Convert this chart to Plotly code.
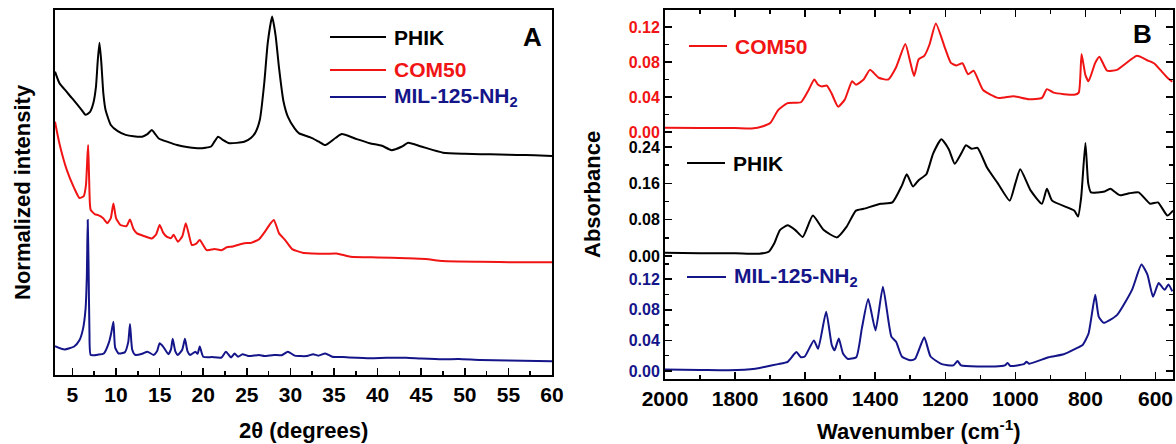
import plotly.graph_objects as go

# ---------------- Panel A : XRD (normalized, vertically offset) ----------------
phik_xrd_2theta = [3.0, 3.5, 4.0, 5.0, 6.0, 6.5, 7.0, 7.4, 7.7, 7.9,
                   8.1, 8.3, 8.55, 8.8, 9.4, 10.2, 11.1, 12.0, 13.0, 13.6,
                   14.1, 14.5, 14.9, 16.0, 17.0, 18.3, 19.6, 20.9, 21.3, 21.7,
                   22.2, 23.0, 24.7, 25.5, 26.0, 26.5, 27.0, 27.4, 27.9, 28.3,
                   28.7, 29.2, 29.7, 30.5, 31.0, 32.3, 33.2, 34.0, 35.2, 35.9,
                   37.4, 39.1, 40.5, 41.6, 42.8, 43.5, 45.0, 47.5, 50.0, 51.8,
                   54.0, 56.0, 58.0, 60.0]
phik_xrd_int = [0.831, 0.80, 0.785, 0.757, 0.728, 0.713, 0.72, 0.745, 0.79, 0.86,
                0.91, 0.86, 0.77, 0.726, 0.685, 0.668, 0.658, 0.654, 0.653, 0.66,
                0.671, 0.66, 0.648, 0.638, 0.630, 0.624, 0.621, 0.626, 0.64, 0.653,
                0.645, 0.635, 0.639, 0.65, 0.665, 0.70, 0.80, 0.91, 0.982, 0.93,
                0.84, 0.75, 0.708, 0.675, 0.662, 0.651, 0.64, 0.630, 0.650, 0.660,
                0.648, 0.635, 0.628, 0.616, 0.626, 0.636, 0.626, 0.609, 0.606, 0.605,
                0.604, 0.603, 0.602, 0.600]

com50_xrd_2theta = [3.0, 3.5, 4.35, 5.2, 5.8, 6.3, 6.55, 6.7, 6.8, 6.9,
                    7.0, 7.1, 7.6, 7.95, 8.5, 9.0, 9.4, 9.7, 10.0, 10.5,
                    11.2, 11.6, 12.0, 12.4, 13.3, 14.1, 14.6, 15.0, 15.4, 15.8,
                    16.3, 16.6, 17.1, 17.6, 18.0, 18.4, 18.7, 19.2, 19.6, 20.4,
                    21.3, 22.1, 22.7, 23.4, 24.7, 25.5, 26.4, 27.2, 27.7, 28.1,
                    28.7, 29.3, 29.7, 30.2, 31.4, 32.5, 34.0, 35.3, 36.9, 40.0,
                    43.3, 45.5, 47.5, 51.8, 56.0, 60.0]
com50_xrd_int = [0.694, 0.635, 0.562, 0.512, 0.485, 0.49, 0.52, 0.59, 0.63, 0.55,
                 0.47, 0.452, 0.44, 0.438, 0.43, 0.416, 0.43, 0.47, 0.43, 0.411,
                 0.408, 0.426, 0.40, 0.388, 0.38, 0.374, 0.385, 0.411, 0.39, 0.379,
                 0.375, 0.384, 0.365, 0.38, 0.416, 0.38, 0.356, 0.36, 0.37, 0.342,
                 0.345, 0.342, 0.35, 0.352, 0.361, 0.362, 0.372, 0.397, 0.415, 0.425,
                 0.388, 0.372, 0.36, 0.345, 0.335, 0.333, 0.332, 0.333, 0.324, 0.322,
                 0.320, 0.318, 0.312, 0.310, 0.309, 0.309]

mil_xrd_2theta = [3.0, 4.1, 5.2, 5.8, 6.2, 6.5, 6.65, 6.75, 6.85, 6.95,
                  7.1, 8.0, 8.6, 9.2, 9.45, 9.7, 9.9, 10.3, 11.0, 11.4,
                  11.6, 11.85, 12.2, 13.0, 13.6, 14.3, 14.7, 15.0, 15.4, 16.0,
                  16.3, 16.5, 16.8, 17.1, 17.6, 17.9, 18.2, 18.5, 19.1, 19.35,
                  19.6, 20.0, 21.0, 22.1, 22.6, 23.2, 23.6, 24.0, 24.5, 25.2,
                  26.4, 27.0, 28.1, 29.0, 29.7, 30.5, 31.9, 32.6, 33.2, 34.0,
                  34.8, 36.0, 39.1, 41.0, 43.3, 45.0, 47.5, 49.3, 51.8, 55.0,
                  60.0]
mil_xrd_int = [0.079, 0.07, 0.078, 0.095, 0.125, 0.18, 0.27, 0.425, 0.30, 0.12,
               0.055, 0.056, 0.059, 0.09, 0.115, 0.146, 0.075, 0.059, 0.062, 0.09,
               0.14, 0.07, 0.055, 0.058, 0.064, 0.055, 0.065, 0.087, 0.078, 0.057,
               0.07, 0.099, 0.065, 0.055, 0.07, 0.099, 0.065, 0.055, 0.064, 0.058,
               0.078, 0.05, 0.049, 0.048, 0.064, 0.048, 0.059, 0.05, 0.057, 0.052,
               0.055, 0.052, 0.055, 0.054, 0.064, 0.053, 0.052, 0.057, 0.053, 0.059,
               0.05, 0.049, 0.046, 0.047, 0.047, 0.045, 0.043, 0.044, 0.041, 0.040,
               0.038]

# ---------------- Panel B : FTIR absorbance ----------------
com50_ir_wn = [2000, 1900, 1800, 1753, 1720, 1699, 1677, 1650, 1612, 1590,
               1574, 1563, 1552, 1538, 1525, 1506, 1487, 1466, 1455, 1433,
               1415, 1390, 1363, 1341, 1314, 1300, 1289, 1276, 1260, 1245,
               1227, 1200, 1184, 1168, 1151, 1135, 1119, 1092, 1049, 1005,
               962, 924, 910, 891, 832, 819, 811, 800, 791, 772,
               760, 738, 710, 653, 624, 604, 582, 566, 552]
com50_ir_abs = [0.005, 0.0045, 0.0045, 0.004, 0.0066, 0.0105, 0.025, 0.033, 0.034, 0.048,
                0.060, 0.054, 0.052, 0.053, 0.0445, 0.029, 0.037, 0.058, 0.054, 0.060,
                0.071, 0.062, 0.060, 0.0735, 0.1006, 0.08, 0.064, 0.083, 0.087, 0.10,
                0.124, 0.095, 0.079, 0.076, 0.0785, 0.066, 0.070, 0.048, 0.039, 0.041,
                0.0375, 0.039, 0.049, 0.045, 0.0425, 0.045, 0.089, 0.065, 0.058, 0.079,
                0.086, 0.070, 0.071, 0.087, 0.082, 0.0785, 0.069, 0.062, 0.0575]

phik_ir_wn = [2000, 1900, 1800, 1731, 1704, 1688, 1672, 1650, 1628, 1607,
              1578, 1547, 1509, 1482, 1455, 1433, 1384, 1351, 1324, 1310,
              1292, 1276, 1254, 1235, 1211, 1190, 1173, 1155, 1141, 1125,
              1108, 1081, 1050, 1016, 1000, 986, 956, 924, 910, 895,
              832, 821, 812, 800, 792, 784, 765, 745, 729, 702,
              675, 648, 615, 593, 566, 550]
phik_ir_abs = [0.007, 0.006, 0.006, 0.005, 0.0094, 0.028, 0.057, 0.0676, 0.057, 0.042,
               0.089, 0.057, 0.041, 0.064, 0.100, 0.104, 0.115, 0.118, 0.155, 0.180,
               0.153, 0.167, 0.18, 0.225, 0.257, 0.235, 0.203, 0.225, 0.244, 0.236,
               0.238, 0.195, 0.16, 0.122, 0.16, 0.191, 0.144, 0.115, 0.148, 0.122,
               0.100, 0.087, 0.13, 0.249, 0.16, 0.140, 0.14, 0.142, 0.148, 0.134,
               0.138, 0.140, 0.115, 0.118, 0.089, 0.100]

mil_ir_wn = [2000, 1900, 1818, 1742, 1710, 1677, 1650, 1634, 1625, 1612,
             1601, 1575, 1563, 1540, 1524, 1516, 1504, 1492, 1479, 1454,
             1438, 1420, 1399, 1378, 1354, 1340, 1324, 1299, 1286, 1260,
             1242, 1210, 1177, 1165, 1155, 1058, 1030, 1022, 1014, 976,
             968, 960, 905, 862, 829, 808, 791, 772, 762, 748,
             710, 667, 640, 623, 607, 591, 574, 563, 552]
mil_ir_abs = [0.002, 0.0015, 0.001, 0.003, 0.006, 0.009, 0.012, 0.0206, 0.025, 0.018,
              0.019, 0.040, 0.029, 0.0775, 0.034, 0.027, 0.0425, 0.023, 0.016, 0.018,
              0.056, 0.094, 0.053, 0.110, 0.045, 0.038, 0.019, 0.014, 0.016, 0.044,
              0.019, 0.009, 0.0074, 0.013, 0.0074, 0.006, 0.0074, 0.0105, 0.0066, 0.009,
              0.012, 0.0096, 0.018, 0.022, 0.029, 0.034, 0.049, 0.0995, 0.071, 0.063,
              0.073, 0.106, 0.139, 0.126, 0.097, 0.115, 0.106, 0.113, 0.104]

series_names = ["PHIK", "COM50", "MIL-125-NH<sub>2</sub>"]

BLACK = "#000000"
RED = "#f01414"
NAVY = "#15158a"

FW, FH = 1176, 444
FONT = "Liberation Sans, Arial, sans-serif"


def px(x):
    return x / FW


def py(y):
    return 1 - y / FH


fig = go.Figure()

# Panel A traces
for xs, ys, c in [(phik_xrd_2theta, phik_xrd_int, BLACK),
                  (com50_xrd_2theta, com50_xrd_int, RED),
                  (mil_xrd_2theta, mil_xrd_int, NAVY)]:
    fig.add_trace(go.Scatter(x=xs, y=ys, mode="lines",
                             line=dict(color=c, width=2, shape="spline", smoothing=0.5),
                             xaxis="x", yaxis="y", showlegend=False, hoverinfo="skip"))

# Panel B traces
for xs, ys, c, ax in [(com50_ir_wn, com50_ir_abs, RED, "2"),
                      (phik_ir_wn, phik_ir_abs, BLACK, "3"),
                      (mil_ir_wn, mil_ir_abs, NAVY, "4")]:
    fig.add_trace(go.Scatter(x=xs, y=ys, mode="lines",
                             line=dict(color=c, width=2, shape="spline", smoothing=0.5),
                             xaxis="x" + ax, yaxis="y" + ax, showlegend=False,
                             hoverinfo="skip"))

tickfont_big = dict(family=FONT, size=21, color="black", weight="bold")

A_dom_x = [px(55), px(552)]
B_dom_x = [px(665), px(1173)]

common_line = dict(showline=True, linecolor="black", linewidth=2, showgrid=False,
                   zeroline=False, automargin=False)

fig.update_layout(
    width=FW, height=FH, autosize=False,
    margin=dict(l=0, r=0, t=0, b=0, pad=0, autoexpand=False),
    paper_bgcolor="white", plot_bgcolor="white",
    xaxis=dict(domain=A_dom_x, anchor="y", range=[3, 60], mirror=True,
               ticks="inside", ticklen=7, tickwidth=1.5, tickcolor="black",
               tick0=5, dtick=5, tickfont=tickfont_big,
               minor=dict(ticks="inside", ticklen=4, tickwidth=1.5, tickcolor="black",
                          tick0=2.5, dtick=2.5),
               **common_line),
    yaxis=dict(domain=[py(375), py(10)], anchor="x", range=[0, 1.0], mirror=True,
               ticks="", showticklabels=False, **common_line),
    # COM50 (top)
    xaxis2=dict(domain=B_dom_x, anchor="y2", range=[2000, 550], side="top",
                ticks="inside", ticklen=7, tickwidth=1.5, tickcolor="black",
                tick0=600, dtick=200, showticklabels=False,
                minor=dict(ticks="inside", ticklen=4, tickwidth=1.5, tickcolor="black",
                           tick0=500, dtick=100),
                **common_line),
    yaxis2=dict(domain=[py(137), py(10)], anchor="x2", range=[-0.0057, 0.1394],
                mirror="ticks", ticks="inside", ticklen=7, tickwidth=1.5,
                tickcolor="black", tick0=0, dtick=0.04, tickformat=".2f",
                tickfont=dict(family=FONT, size=16, color=RED, weight="bold"),
                minor=dict(ticks="inside", ticklen=4, tickwidth=1.5, tickcolor="black",
                           tick0=0, dtick=0.02),
                **common_line),
    # PHIK (middle)
    xaxis3=dict(domain=B_dom_x, anchor="y3", range=[2000, 550], visible=False,
                automargin=False),
    yaxis3=dict(domain=[py(260), py(137)], anchor="x3", range=[-0.0088, 0.262],
                mirror="ticks", ticks="inside", ticklen=7, tickwidth=1.5,
                tickcolor="black", tick0=0, dtick=0.08, tickformat=".2f",
                tickfont=dict(family=FONT, size=16, color=BLACK, weight="bold"),
                minor=dict(ticks="inside", ticklen=4, tickwidth=1.5, tickcolor="black",
                           tick0=0, dtick=0.04),
                **common_line),
    # MIL (bottom)
    xaxis4=dict(domain=B_dom_x, anchor="y4", range=[2000, 550],
                ticks="inside", ticklen=7, tickwidth=1.5, tickcolor="black",
                tick0=600, dtick=200, tickfont=tickfont_big,
                minor=dict(ticks="inside", ticklen=4, tickwidth=1.5, tickcolor="black",
                           tick0=500, dtick=100),
                **common_line),
    yaxis4=dict(domain=[py(379), py(260)], anchor="x4", range=[-0.0104, 0.145],
                mirror="ticks", ticks="inside", ticklen=7, tickwidth=1.5,
                tickcolor="black", tick0=0, dtick=0.04, tickformat=".2f",
                tickfont=dict(family=FONT, size=16, color=NAVY, weight="bold"),
                minor=dict(ticks="inside", ticklen=4, tickwidth=1.5, tickcolor="black",
                           tick0=0, dtick=0.02),
                **common_line),
)

annotations = []
shapes = []


def label(text, x, y, size, color="black", angle=0, xanchor="center"):
    annotations.append(dict(text=text, x=px(x), y=py(y), xref="paper", yref="paper",
                            showarrow=False, textangle=angle, xanchor=xanchor,
                            yanchor="middle",
                            font=dict(family=FONT, size=size, color=color,
                                      weight="bold")))


def legend_item(x0, x1, y, text, color, size):
    shapes.append(dict(type="line", xref="paper", yref="paper", x0=px(x0), x1=px(x1),
                       y0=py(y), y1=py(y), line=dict(color=color, width=2)))
    label(text, x1 + 6, y, size, color, xanchor="left")


# axis titles
label("2θ (degrees)", 303, 430, 22)
label("Normalized intensity", 22, 192, 22, angle=-90)
label("Absorbance", 592, 195, 22, angle=-90)
label("Wavenumber (cm<sup>-1</sup>)", 919, 430, 22)
# panel letters
label("A", 532, 37, 26)
label("B", 1142, 34, 26)

# Panel A legend
legend_item(330, 386, 37, series_names[0], BLACK, 21)
legend_item(330, 386, 70, series_names[1], RED, 21)
legend_item(330, 386, 97, series_names[2], NAVY, 21)

# Panel B legends
legend_item(689, 727, 46, series_names[1], RED, 21)
legend_item(687, 725, 163, series_names[0], BLACK, 21)
legend_item(687, 726, 277, series_names[2], NAVY, 21)

fig.update_layout(annotations=annotations, shapes=shapes)

# remove the default page margin so the figure sits at the window's top-left corner
page_css = ("document.body.style.margin='0';document.body.style.padding='0';"
            "document.documentElement.style.overflow='hidden';"
            "document.body.style.overflow='hidden';")

fig.write_html("out.html",
               config={"responsive": False, "displayModeBar": False, "staticPlot": True},
               post_script=page_css)
